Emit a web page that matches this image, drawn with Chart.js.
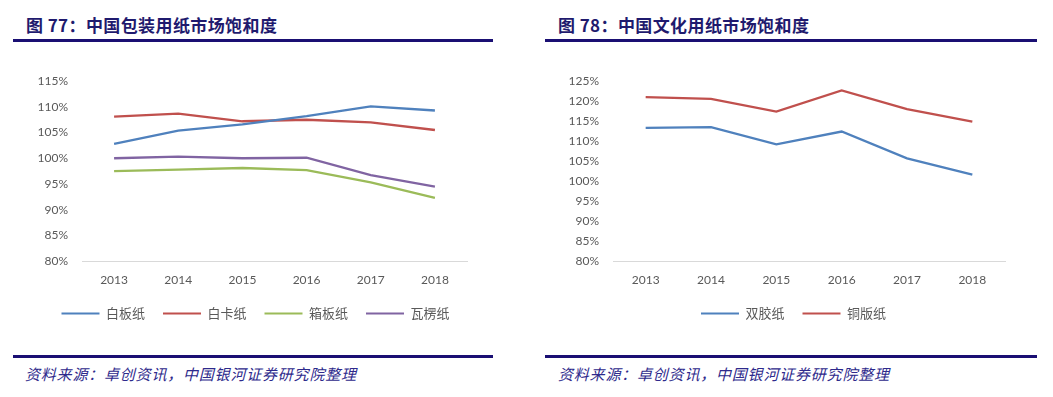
<!DOCTYPE html>
<html>
<head>
<meta charset="utf-8">
<script src="https://cdn.jsdelivr.net/npm/chart.js@4.4.0/dist/chart.umd.min.js"></script>
<style>
  body { margin: 0; background: #fff; width: 1053px; height: 397px; position: relative; overflow: hidden; }
  .title { position: absolute; top: 12px; font: bold 17px "Noto Sans CJK SC", sans-serif; color: #1f1a6e; letter-spacing: 0.4px; white-space: nowrap; }
  .rule { position: absolute; height: 3px; background: #1a0f73; }
  .src { position: absolute; top: 363px; font: italic 15px "Noto Sans CJK SC", sans-serif; color: #2e2a8c; letter-spacing: 0.8px; white-space: nowrap; }
  .box { position: absolute; top: 60px; height: 270px; }
</style>
</head>
<body>
<div class="title" style="left:26px">图 77：中国包装用纸市场饱和度</div>
<div class="rule" style="left:13px;width:480px;top:39px"></div>
<div class="box" style="left:0;width:500px"><canvas id="packChart" width="500" height="270"></canvas></div>
<div class="rule" style="left:13px;width:480px;top:355px"></div>
<div class="src" style="left:25px">资料来源：卓创资讯，中国银河证券研究院整理</div>

<div class="title" style="left:558px">图 78：中国文化用纸市场饱和度</div>
<div class="rule" style="left:545px;width:492px;top:39px"></div>
<div class="box" style="left:530px;width:510px"><canvas id="cultureChart" width="510" height="270"></canvas></div>
<div class="rule" style="left:545px;width:492px;top:355px"></div>
<div class="src" style="left:558px">资料来源：卓创资讯，中国银河证券研究院整理</div>

<script>
const years = ['2013', '2014', '2015', '2016', '2017', '2018'];

// 包装用纸 (%)
const baiban = [102.8, 105.4, 106.6, 108.2, 110.1, 109.3];
const baika = [108.1, 108.7, 107.2, 107.5, 107.0, 105.5];
const xiangban = [97.5, 97.8, 98.1, 97.7, 95.3, 92.3];
const waleng = [100.0, 100.3, 100.0, 100.1, 96.7, 94.5];

// 文化用纸 (%)
const shuangjiao = [113.3, 113.5, 109.2, 112.4, 105.7, 101.6];
const tongban = [121.0, 120.6, 117.4, 122.7, 118.0, 114.9];

const tickColor = '#595959';

function series(label, data, color) {
    return {
        label: label,
        data: data,
        borderColor: color,
        backgroundColor: color,
        borderWidth: 2.3,
        pointRadius: 0,
        tension: 0,
        fill: false,
    };
}

// Excel centres the legend under the whole plot, Chart.js under the layout width,
// so nudge it sideways after layout
const legendShift = {
    id: 'legendShift',
    afterLayout(chart, args, opts) {
        const lg = chart.legend;
        if (!lg || !opts.dx) return;
        lg.left += opts.dx;
        lg.right += opts.dx;
    },
};

function makeChart(id, datasets, yMax, yWidth, padRight, dx) {
    return new Chart(document.getElementById(id), {
        type: 'line',
        data: { labels: years, datasets: datasets },
        plugins: [legendShift],
        options: {
            responsive: false,
            animation: false,
            layout: { padding: { top: 17, right: padRight, left: 0, bottom: 0 } },
            plugins: {
                tooltip: { enabled: false },
                legendShift: { dx: dx },
                legend: {
                    position: 'bottom',
                    labels: {
                        boxWidth: 38,
                        boxHeight: 2,
                        padding: 18,
                        color: tickColor,
                        font: { family: '"Noto Sans CJK SC", sans-serif', size: 13 },
                        generateLabels(chart) {
                            return Chart.defaults.plugins.legend.labels.generateLabels(chart)
                                .map((item) => ({ ...item, lineWidth: 0 }));
                        },
                    },
                },
            },
            scales: {
                x: {
                    offset: true,
                    grid: { display: false, drawTicks: false },
                    border: { display: true, color: '#d9d9d9', width: 1 },
                    ticks: { color: tickColor, padding: 12, font: { family: 'Lato', size: 12 } },
                    afterFit(scale) { scale.height = 28; },
                },
                y: {
                    min: 80,
                    max: yMax,
                    grid: { display: false, drawTicks: false },
                    border: { display: false },
                    ticks: {
                        stepSize: 5,
                        color: tickColor,
                        padding: 14,
                        font: { family: 'Lato', size: 12 },
                        callback: (v) => v + '%',
                    },
                    afterFit(scale) { scale.width = yWidth; },
                },
            },
        },
    });
}

makeChart('packChart', [
    series('白板纸', baiban, '#4f81bd'),
    series('白卡纸', baika, '#c0504d'),
    series('箱板纸', xiangban, '#9bbb59'),
    series('瓦楞纸', waleng, '#8064a2'),
], 115, 82, 33, 22);

makeChart('cultureChart', [
    series('双胶纸', shuangjiao, '#4f81bd'),
    series('铜版纸', tongban, '#c0504d'),
], 125, 83, 35, 26);
</script>
</body>
</html>
